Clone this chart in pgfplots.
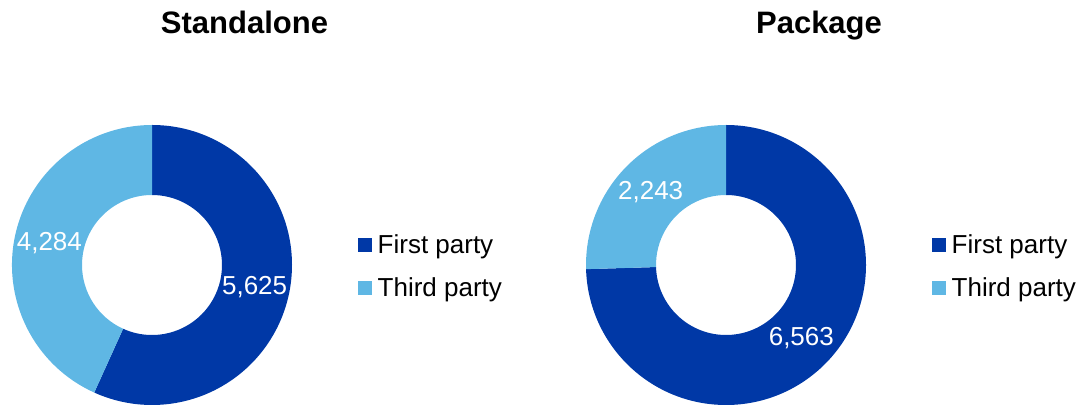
\documentclass[border=0pt]{standalone}
\usepackage{pgfplots}
\usepackage{pgfplotstable}
\pgfplotsset{compat=1.18}
\usepackage{fontspec}
\setmainfont{Liberation Sans}
\definecolor{firstc}{RGB}{0,56,166}
\definecolor{thirdc}{RGB}{95,183,228}

\pgfplotstableread{
party value
First 5625
Third 4284
}\standalonedata
\pgfplotstableread{
party value
First 6563
Third 2243
}\packagedata

\pgfplotsset{
  donut/.style={
    hide axis, clip=false,
    x=1pt, y=1pt,
    xmin=-145, xmax=145, ymin=-145, ymax=145,
    anchor=origin,
    legend cell align=left,
    legend style={at={(axis cs:205.5,-1.5)}, anchor=west, draw=none, fill=none,
      inner sep=0pt, row sep=18pt,
      font=\fontsize{26}{30}\selectfont,
      /tikz/every odd column/.append style={column sep=4pt}},
    legend image code/.code={\fill[##1] (0pt,-7pt) rectangle (14pt,7pt);},
  },
  /pgf/number format/1000 sep={,},
  /pgf/number format/assume math mode=true,
}

\begin{document}
\begin{tikzpicture}
\useasboundingbox (0,0) rectangle (1081pt,406pt);
\pgfplotstablegetelem{0}{value}\of\standalonedata \edef\SA{\pgfplotsretval}
\pgfplotstablegetelem{1}{value}\of\standalonedata \edef\SB{\pgfplotsretval}
\pgfplotstablegetelem{0}{value}\of\packagedata \edef\PA{\pgfplotsretval}
\pgfplotstablegetelem{1}{value}\of\packagedata \edef\PB{\pgfplotsretval}
\pgfmathsetmacro\SM{90-360*(\SA/(\SA+\SB))}
\pgfmathsetmacro\SLa{(90+\SM)/2}
\pgfmathsetmacro\SLb{(\SM-270)/2}
\pgfmathsetmacro\PM{90-360*(\PA/(\PA+\PB))}
\pgfmathsetmacro\PLa{(90+\PM)/2}
\pgfmathsetmacro\PLb{(\PM-270)/2}

\begin{axis}[donut, at={(152pt,141pt)}]
  \addlegendimage{fill=firstc, draw=none}
  \addlegendentry{First party}
  \addlegendimage{fill=thirdc, draw=none}
  \addlegendentry{Third party}
  \fill[firstc] (axis cs:0,140) arc[start angle=90, end angle=\SM, radius=140pt]
    -- (axis cs:{70*cos(\SM)},{70*sin(\SM)}) arc[start angle=\SM, end angle=90, radius=70pt] -- cycle;
  \fill[thirdc] (axis cs:{140*cos(\SM)},{140*sin(\SM)}) arc[start angle=\SM, end angle=-270, radius=140pt]
    -- (axis cs:0,70) arc[start angle=-270, end angle=\SM, radius=70pt] -- cycle;
  \node[text=white, font=\fontsize{26}{30}\selectfont] at (axis cs:{105*cos(\SLa)},{105*sin(\SLa)}) {\pgfmathprintnumber{\SA}};
  \node[text=white, font=\fontsize{26}{30}\selectfont] at (axis cs:{105*cos(\SLb)},{105*sin(\SLb)}) {\pgfmathprintnumber{\SB}};
  \node[anchor=base, font=\fontsize{31}{36}\selectfont\bfseries] at (axis cs:92.5,231) {Standalone};
\end{axis}

\begin{axis}[donut, at={(726pt,141pt)}]
  \addlegendimage{fill=firstc, draw=none}
  \addlegendentry{First party}
  \addlegendimage{fill=thirdc, draw=none}
  \addlegendentry{Third party}
  \fill[firstc] (axis cs:0,140) arc[start angle=90, end angle=\PM, radius=140pt]
    -- (axis cs:{70*cos(\PM)},{70*sin(\PM)}) arc[start angle=\PM, end angle=90, radius=70pt] -- cycle;
  \fill[thirdc] (axis cs:{140*cos(\PM)},{140*sin(\PM)}) arc[start angle=\PM, end angle=-270, radius=140pt]
    -- (axis cs:0,70) arc[start angle=-270, end angle=\PM, radius=70pt] -- cycle;
  \node[text=white, font=\fontsize{26}{30}\selectfont] at (axis cs:{105*cos(\PLa)},{105*sin(\PLa)}) {\pgfmathprintnumber{\PA}};
  \node[text=white, font=\fontsize{26}{30}\selectfont] at (axis cs:{105*cos(\PLb)},{105*sin(\PLb)}) {\pgfmathprintnumber{\PB}};
  \node[anchor=base, font=\fontsize{31}{36}\selectfont\bfseries] at (axis cs:93,231) {Package};
\end{axis}
\end{tikzpicture}
\end{document}
